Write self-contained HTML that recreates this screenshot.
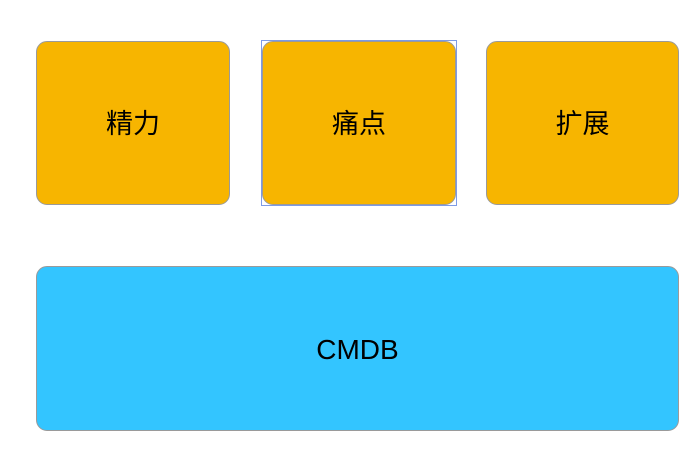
<!DOCTYPE html>
<html><head><style>
body{margin:0;width:698px;height:461px;background:#fff;position:relative;overflow:hidden;font-family:"Liberation Sans","Noto Sans CJK SC",sans-serif;}
.b{position:absolute;box-sizing:border-box;border:1.5px solid #9a9a9a;border-radius:11px;display:flex;align-items:center;justify-content:center;font-size:27px;color:#000;}
.o{background:#F7B500;top:41px;height:164px;padding-bottom:4px;}
.sel{position:absolute;left:261px;top:40px;width:196px;height:166px;box-sizing:border-box;border:1px solid #7d9be6;}
</style></head><body>
<div class="b o" style="left:36px;width:194px;">精力</div>
<div class="sel"></div>
<div class="b o" style="left:262px;width:194px;">痛点</div>
<div class="b o" style="left:486px;width:193px;">扩展</div>
<div class="b" style="left:36px;top:266px;width:643px;height:165px;background:#33C5FF;font-size:28px;padding-top:2px;">CMDB</div>
</body></html>
